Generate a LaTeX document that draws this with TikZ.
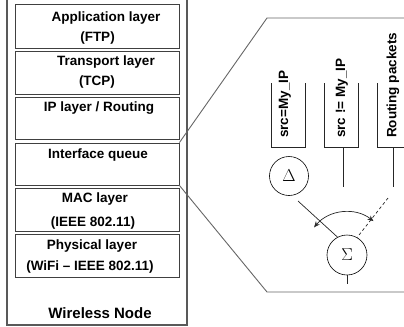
\documentclass[tikz,border=0pt]{standalone}
\usepackage{fontspec}
\setmainfont{Liberation Sans}
\usetikzlibrary{arrows.meta,calc}
\begin{document}
\begin{tikzpicture}[x=1bp,y=1bp,
  lbl/.style={font=\fontsize{13.5bp}{16bp}\selectfont\bfseries, inner sep=0pt},
  layerbox/.style={rectangle, draw=black!75, line width=0.8bp, minimum width=164bp, inner sep=0pt},
  frame/.style={draw=black!65, line width=1.1bp},
  zoomline/.style={draw=black!60, line width=0.9bp},
  qline/.style={draw=black!85, line width=0.7bp},
  sym/.style={circle, draw, line width=0.6bp, minimum size=39bp, inner sep=0pt, font=\fontsize{16bp}{18bp}\selectfont}
]
\useasboundingbox (0,0) rectangle (404,-327);
% outer node frame
\draw[frame] (7,5) rectangle (187,-325);
% layer boxes
\node[layerbox, minimum height=44bp] (app) at (97,-26) {};
\node[layerbox, minimum height=43bp] (tra) at (97,-72.5) {};
\node[layerbox, minimum height=42bp] (ipl) at (97,-118) {};
\node[layerbox, minimum height=42bp] (iq)  at (97,-164) {};
\node[layerbox, minimum height=43bp] (mac) at (97,-209.5) {};
\node[layerbox, minimum height=43bp] (phy) at (97,-255.5) {};
% texts
\node[lbl] (t1) at (106,-18) {Application layer};
\node[lbl] (t1b) at (97.5,-38) {(FTP)};
\node[lbl] (t2) at (106,-62) {Transport layer};
\node[lbl] (t2b) at (97,-82) {(TCP)};
\node[lbl] (t3) at (99,-108) {IP layer / Routing};
\node[lbl] (t4) at (98,-155) {Interface queue};
\node[lbl] (t5) at (95,-199) {MAC layer};
\node[lbl] (t5b) at (93,-223) {(IEEE 802.11)};
\node[lbl] (t6) at (92,-246) {Physical layer};
\node[lbl] (t6b) at (90,-267) {(WiFi -- IEEE 802.11)};
\node[lbl, font=\fontsize{15bp}{17bp}\selectfont\bfseries] (wn) at (100,-313) {Wireless Node};
% zoom lines
\coordinate (zt) at (267,-18);
\coordinate (ztr) at (406,-18);
\coordinate (zb) at (267,-292);
\coordinate (zbr) at (406,-292);
\draw[zoomline] (iq.north east) -- (zt) -- (ztr);
\draw[zoomline] (iq.south east) -- (zb) -- (zbr);
% queues
\draw[qline] (271,-83) -- (271,-147) -- (305,-147) -- (305,-83);
\draw[qline] (324,-83) -- (324,-147) -- (358,-147) -- (358,-83);
\draw[qline] (377,-83) -- (377,-147) -- (411,-147) -- (411,-83);
\node[lbl, rotate=90, anchor=west] (q1) at (285,-138) {src=My\_IP};
\node[lbl, rotate=90, anchor=west] (q2) at (342,-138) {src != My\_IP};
\node[lbl, rotate=90, anchor=west] (q3) at (393,-138) {Routing packets};
\coordinate (q2b) at (343,-147);
\coordinate (q2e) at (343,-187);
\coordinate (q3b) at (393,-147);
\coordinate (q3e) at (393,-187);
\draw[qline] (q2b) -- (q2e);
\draw[qline] (q3b) -- (q3e);
% operators
\node[sym] (delta) at (289,-176) {$\Delta$};
\node[sym, minimum size=40bp] (sigma) at (347,-255) {$\Sigma$};
\coordinate (sout) at (347,-284);
\draw[qline] (sigma.south) -- (sout);
\coordinate (ds) at (298,-201);
\draw[qline] (ds) -- (sigma.118);
\coordinate (dd) at (388,-198);
\draw[qline, dashed, dash pattern=on 3bp off 2.5bp] (dd) -- (sigma.60);
\draw[qline, {Stealth[length=6bp,width=5bp]}-{Stealth[length=6bp,width=5bp]}]
  ($(sigma.center)+(140:43)$) arc[start angle=140, end angle=52, radius=43];
\end{tikzpicture}
\end{document}
